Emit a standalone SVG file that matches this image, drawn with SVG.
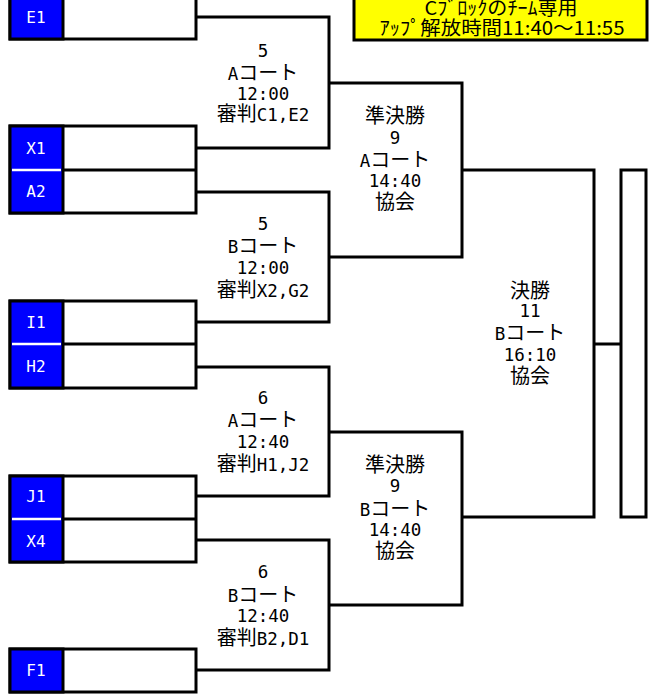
<svg xmlns="http://www.w3.org/2000/svg" width="667" height="697" viewBox="0 0 667 697">
<style>
.t{font-family:"DejaVu Sans Mono","Noto Sans CJK JP",monospace;font-size:17.5px;fill:#000;text-anchor:middle}
.t tspan.j{font-family:"Noto Sans CJK JP",sans-serif;font-size:20px}
.y{font-family:"Noto Sans CJK JP","DejaVu Sans Mono",sans-serif;font-size:19px;fill:#000;text-anchor:middle}
.w{font-family:"DejaVu Sans Mono","Noto Sans CJK JP",monospace;font-size:16px;fill:#fff;text-anchor:middle}
.box{fill:#fff;stroke:#000;stroke-width:3}
.blue{fill:#0000ff;stroke:#000;stroke-width:3}
.ln{fill:none;stroke:#000;stroke-width:3}
.dv{stroke:#000;stroke-width:3}
.dw{stroke:#fff;stroke-width:2.5}
</style>
<rect width="667" height="697" fill="#fff"/>
<g id="connectors">
<path class="ln" d="M196,17H329V148H196"/>
<path class="ln" d="M196,192H329V322H196"/>
<path class="ln" d="M196,367H329V496H196"/>
<path class="ln" d="M196,540H329V670H196"/>
<path class="ln" d="M329,83H462V257H329"/>
<path class="ln" d="M329,432H462V605H329"/>
<path class="ln" d="M462,170H594V517H462"/>
<path class="ln" d="M594,344H621"/>
</g>
<g id="notice">
<rect x="354" y="-5" width="293" height="45" fill="#ffff00" stroke="#000" stroke-width="3"/>
<text class="y" x="501" y="15" textLength="153" lengthAdjust="spacingAndGlyphs">Cﾌﾞﾛｯｸのﾁｰﾑ専用</text>
<text class="y" x="502" y="35" textLength="245" lengthAdjust="spacingAndGlyphs">ｱｯﾌﾟ解放時間11:40～11:55</text>
</g>
<g id="team-E1">
<rect class="box" x="10" y="-5" width="186" height="44"/>
<rect class="blue" x="10" y="-5" width="53" height="44"/>
<text class="w" x="36" y="23">E1</text>
</g>
<g id="team-X1-A2">
<rect class="box" x="10" y="126" width="186" height="87"/>
<rect class="blue" x="10" y="126" width="53" height="87"/>
<line class="dv" x1="63" y1="170" x2="196" y2="170"/>
<line class="dw" x1="12" y1="170" x2="61" y2="170"/>
<text class="w" x="36" y="154">X1</text>
<text class="w" x="36" y="196.5">A2</text>
</g>
<g id="team-I1-H2">
<rect class="box" x="10" y="301" width="186" height="87"/>
<rect class="blue" x="10" y="301" width="53" height="87"/>
<line class="dv" x1="63" y1="344" x2="196" y2="344"/>
<line class="dw" x1="12" y1="344" x2="61" y2="344"/>
<text class="w" x="36" y="328">I1</text>
<text class="w" x="36" y="371.5">H2</text>
</g>
<g id="team-J1-X4">
<rect class="box" x="10" y="476" width="186" height="86"/>
<rect class="blue" x="10" y="476" width="53" height="86"/>
<line class="dv" x1="63" y1="519" x2="196" y2="519"/>
<line class="dw" x1="12" y1="519" x2="61" y2="519"/>
<text class="w" x="36" y="501.5">J1</text>
<text class="w" x="36" y="546.5">X4</text>
</g>
<g id="team-F1">
<rect class="box" x="10" y="649" width="186" height="43"/>
<rect class="blue" x="10" y="649" width="53" height="43"/>
<text class="w" x="36" y="675.5">F1</text>
</g>
<g id="match-5A">
<text class="t" x="263" y="56.5">5</text>
<text class="t" x="263" y="80">A<tspan class="j">コート</tspan></text>
<text class="t" x="263" y="99.5">12:00</text>
<text class="t" x="263" y="120.5"><tspan class="j">審判</tspan>C1,E2</text>
</g>
<g id="match-5B">
<text class="t" x="263" y="230">5</text>
<text class="t" x="263" y="252.5">B<tspan class="j">コート</tspan></text>
<text class="t" x="263" y="274">12:00</text>
<text class="t" x="263" y="296.5"><tspan class="j">審判</tspan>X2,G2</text>
</g>
<g id="match-6A">
<text class="t" x="263" y="404">6</text>
<text class="t" x="263" y="427">A<tspan class="j">コート</tspan></text>
<text class="t" x="263" y="448">12:40</text>
<text class="t" x="263" y="470.5"><tspan class="j">審判</tspan>H1,J2</text>
</g>
<g id="match-6B">
<text class="t" x="263" y="577.5">6</text>
<text class="t" x="263" y="601.5">B<tspan class="j">コート</tspan></text>
<text class="t" x="263" y="621.5">12:40</text>
<text class="t" x="263" y="645"><tspan class="j">審判</tspan>B2,D1</text>
</g>
<g id="semi-A">
<text class="t" x="395" y="123"><tspan class="j">準決勝</tspan></text>
<text class="t" x="395" y="143.5">9</text>
<text class="t" x="395" y="166.5">A<tspan class="j">コート</tspan></text>
<text class="t" x="395" y="187">14:40</text>
<text class="t" x="395" y="209"><tspan class="j">協会</tspan></text>
</g>
<g id="semi-B">
<text class="t" x="395" y="471.5"><tspan class="j">準決勝</tspan></text>
<text class="t" x="395" y="492">9</text>
<text class="t" x="395" y="515.5">B<tspan class="j">コート</tspan></text>
<text class="t" x="395" y="536">14:40</text>
<text class="t" x="395" y="558"><tspan class="j">協会</tspan></text>
</g>
<g id="final">
<text class="t" x="530" y="297.5"><tspan class="j">決勝</tspan></text>
<text class="t" x="530" y="317">11</text>
<text class="t" x="530" y="340">B<tspan class="j">コート</tspan></text>
<text class="t" x="530" y="361">16:10</text>
<text class="t" x="530" y="382.5"><tspan class="j">協会</tspan></text>
</g>
<g id="winner">
<rect class="box" x="621" y="170" width="25" height="347"/>
</g>
</svg>
